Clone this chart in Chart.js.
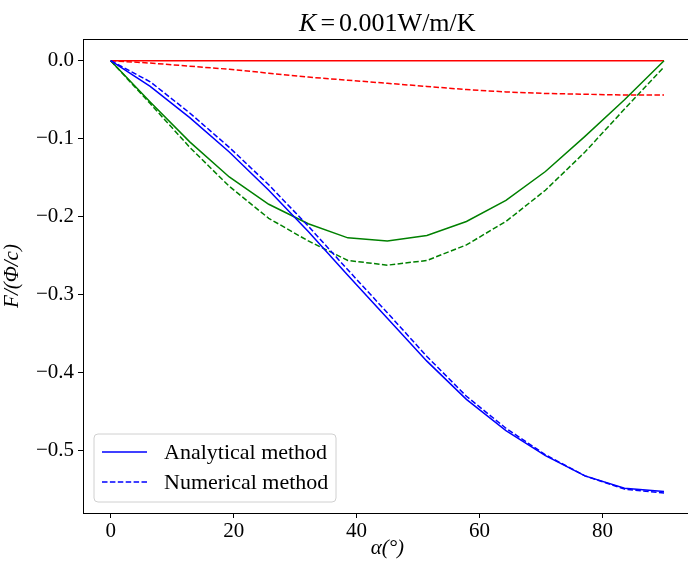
<!DOCTYPE html>
<html>
<head>
<meta charset="utf-8">
<script src="https://cdn.jsdelivr.net/npm/chart.js@4.4.0/dist/chart.umd.min.js"></script>
<style>
html,body{margin:0;padding:0;background:#fff;overflow:hidden;}
#wrap{width:720px;height:562px;}
</style>
</head>
<body>
<div id="wrap"><canvas id="c" width="720" height="562"></canvas></div>
<script>
const alphaDeg = [0, 6.43, 12.86, 19.29, 25.71, 32.14, 38.57, 45, 51.43, 57.86, 64.29, 70.71, 77.14, 83.57, 90];
const blueAnalytical = [0, -0.033, -0.073, -0.117, -0.166, -0.219, -0.275, -0.330, -0.385, -0.434, -0.474, -0.506, -0.532, -0.548, -0.552];
const blueNumerical  = [0, -0.027, -0.067, -0.111, -0.159, -0.212, -0.268, -0.323, -0.379, -0.430, -0.471, -0.505, -0.532, -0.549, -0.554];
const greenAnalytical = [0, -0.053, -0.104, -0.149, -0.184, -0.209, -0.227, -0.231, -0.224, -0.206, -0.179, -0.142, -0.097, -0.050, 0];
const greenNumerical  = [0, -0.055, -0.111, -0.161, -0.202, -0.231, -0.256, -0.262, -0.256, -0.236, -0.206, -0.166, -0.117, -0.062, -0.008];
const redAnalytical = [0, 0, 0, 0, 0, 0, 0, 0, 0, 0, 0, 0, 0, 0, 0];
const redNumerical  = [0, -0.003, -0.007, -0.011, -0.016, -0.021, -0.025, -0.029, -0.033, -0.037, -0.040, -0.042, -0.043, -0.044, -0.044];
const xTicks = [0, 20, 40, 60, 80];
const yTicks = [0, -0.1, -0.2, -0.3, -0.4, -0.5];
const legendLabels = ['Analytical method', 'Numerical method'];
const titleParts = ['K', '=', '0.001W/m/K'];

const FONT = "'Liberation Serif', 'Times New Roman', serif";
const DASH = [5.5, 2.4];
const pts = arr => arr.map((v, i) => ({x: alphaDeg[i], y: v}));

function ds(label, data, color, dashed) {
  return {label, data: pts(data), borderColor: color, backgroundColor: color,
    borderWidth: 1.5, borderDash: dashed ? DASH : [], pointRadius: 0, tension: 0, fill: false};
}

const framePlugin = {
  id: 'frame',
  afterDraw(chart) {
    const {ctx, chartArea: a} = chart;
    ctx.save();
    ctx.strokeStyle = '#000';
    ctx.lineWidth = 1;
    ctx.strokeRect(Math.round(a.left) + 0.5, Math.round(a.top) + 0.5, Math.round(a.right - a.left), Math.round(a.bottom - a.top));
    // title (math style: italic K)
    ctx.fillStyle = '#000';
    ctx.textBaseline = 'alphabetic';
    const fItal = 'italic 26px ' + FONT, fNorm = '26px ' + FONT;
    ctx.font = fItal; const w0 = ctx.measureText(titleParts[0]).width;
    ctx.font = fNorm; const wEq = ctx.measureText(titleParts[1]).width; const w2 = ctx.measureText(titleParts[2]).width;
    const gap = 4;
    const total = w0 + gap + wEq + gap + w2;
    let tx = (a.left + a.right) / 2 - total / 2;
    const ty = 31;
    ctx.font = fItal; ctx.fillText(titleParts[0], tx, ty); tx += w0 + gap;
    ctx.font = fNorm; ctx.fillText(titleParts[1], tx, ty); tx += wEq + gap;
    ctx.fillText(titleParts[2], tx, ty);
    // legend
    const x0 = 94, y0 = 434, w = 242, h = 68, r = 4;
    ctx.fillStyle = 'rgba(255,255,255,0.8)';
    ctx.strokeStyle = '#d0d0d0';
    ctx.lineWidth = 1;
    ctx.beginPath();
    ctx.moveTo(x0 + r, y0);
    ctx.arcTo(x0 + w, y0, x0 + w, y0 + h, r);
    ctx.arcTo(x0 + w, y0 + h, x0, y0 + h, r);
    ctx.arcTo(x0, y0 + h, x0, y0, r);
    ctx.arcTo(x0, y0, x0 + w, y0, r);
    ctx.closePath();
    ctx.fill();
    ctx.stroke();
    ctx.font = '22px ' + FONT;
    ctx.textBaseline = 'middle';
    legendLabels.forEach((lab, i) => {
      const yy = y0 + 18 + i * 30;
      ctx.strokeStyle = '#0000ff';
      ctx.lineWidth = 1.5;
      ctx.setLineDash(i === 1 ? DASH : []);
      ctx.beginPath();
      ctx.moveTo(x0 + 8, yy);
      ctx.lineTo(x0 + 53, yy);
      ctx.stroke();
      ctx.setLineDash([]);
      ctx.fillStyle = '#000';
      ctx.fillText(lab, x0 + 70, yy + 1);
    });
    ctx.restore();
  }
};

new Chart(document.getElementById('c'), {
  type: 'line',
  data: {
    datasets: [
      ds('Analytical method', blueAnalytical, '#0000ff', false),
      ds('Numerical method', blueNumerical, '#0000ff', true),
      ds('Analytical (green)', greenAnalytical, '#008000', false),
      ds('Numerical (green)', greenNumerical, '#008000', true),
      ds('Analytical (red)', redAnalytical, '#ff0000', false),
      ds('Numerical (red)', redNumerical, '#ff0000', true)
    ]
  },
  options: {
    responsive: false,
    animation: false,
    layout: {padding: {left: 0, right: 28.3, top: 39, bottom: 0}},
    plugins: {
      legend: {display: false},
      tooltip: {enabled: false},
      title: {display: false}
    },
    scales: {
      x: {
        type: 'linear', min: -4.5, max: 94.5,
        afterBuildTicks: ax => { ax.ticks = xTicks.map(v => ({value: v})); },
        afterFit: ax => { ax.height = 49; },
        grid: {drawOnChartArea: false, drawTicks: true, tickLength: 5, color: '#000'},
        border: {display: true, color: '#000'},
        ticks: {color: '#000', font: {family: FONT, size: 21}, padding: 1, maxRotation: 0,
          callback: v => String(v)},
        title: {display: true, text: 'α(°)', color: '#000', padding: {top: 0, bottom: 1},
          font: {family: FONT, size: 21, style: 'italic'}}
      },
      y: {
        type: 'linear', min: -0.5796, max: 0.0278,
        afterBuildTicks: ax => { ax.ticks = yTicks.map(v => ({value: v})); },
        afterFit: ax => { ax.width = 83; },
        grid: {drawOnChartArea: false, drawTicks: true, tickLength: 5, color: '#000'},
        border: {display: true, color: '#000'},
        ticks: {color: '#000', font: {family: FONT, size: 21}, padding: 4,
          callback: v => (v < 0 ? '\u2212' : '') + Math.abs(v).toFixed(1)},
        title: {display: true, text: 'F/(Φ/c)', color: '#000', padding: {top: 0, bottom: 0},
          font: {family: FONT, size: 21, style: 'italic'}}
      }
    }
  },
  plugins: [framePlugin]
});
</script>
</body>
</html>
